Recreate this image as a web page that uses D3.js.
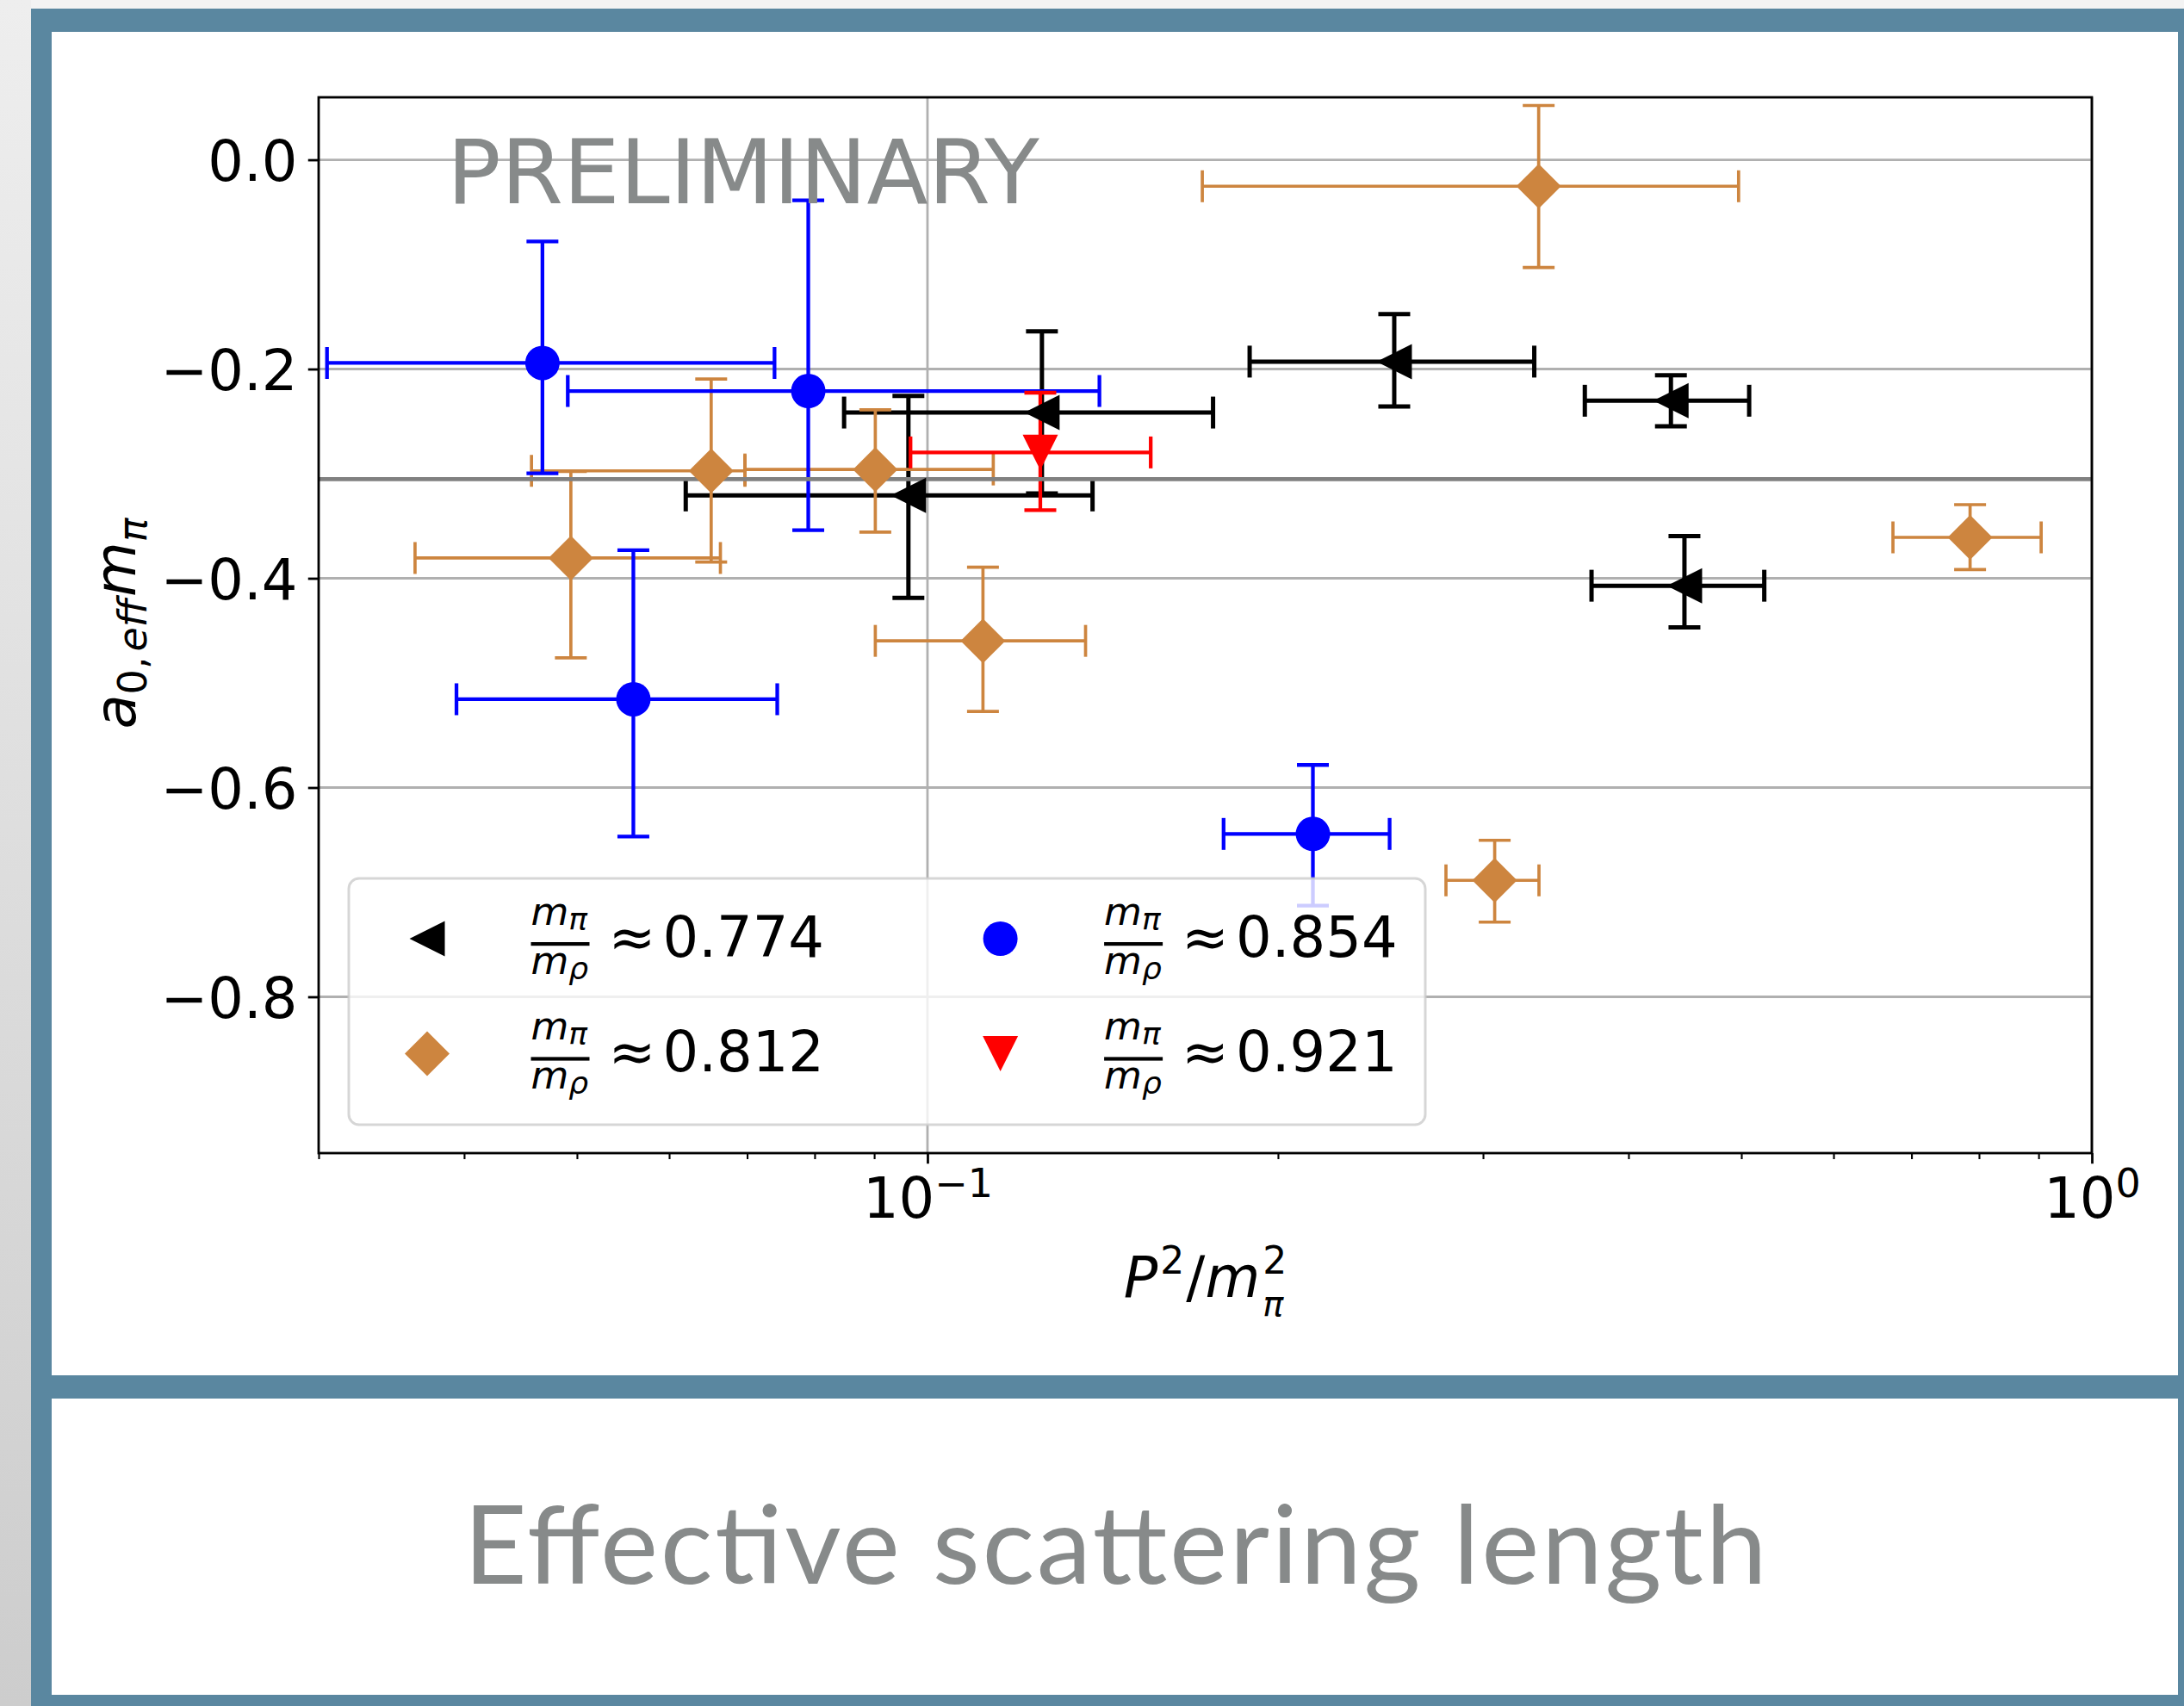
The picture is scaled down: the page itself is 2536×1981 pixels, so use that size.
<!DOCTYPE html>
<html><head><meta charset="utf-8">
<script src="https://cdn.jsdelivr.net/npm/d3@7"></script>
<style>html,body{margin:0;padding:0;background:#f3f3f3;overflow:hidden}</style>
</head><body><svg id="c" width="2536" height="1981"></svg>
<script>
// ---------- data ----------
const ratioLabels = ["0.774", "0.812", "0.854", "0.921"];
// rows: [P^2/m_pi^2, lower, upper, a0eff*m_pi, lower, upper]
const pts0774 = [
  [0.1254, 0.0848, 0.1759, -0.2416, -0.3190, -0.1640],
  [0.0963, 0.0620, 0.1386, -0.3208, -0.4187, -0.2257],
  [0.2517, 0.1891, 0.3320, -0.1929, -0.2357, -0.1476],
  [0.4350, 0.3669, 0.5078, -0.2303, -0.2547, -0.2059],
  [0.4468, 0.3718, 0.5232, -0.4071, -0.4470, -0.3596]
];
const pts0812 = [
  [0.0652, 0.0457, 0.0697, -0.2973, -0.3845, -0.2096],
  [0.0902, 0.0697, 0.1139, -0.2960, -0.3559, -0.2390],
  [0.0494, 0.0363, 0.0664, -0.3806, -0.4760, -0.2979],
  [0.1116, 0.0902, 0.1367, -0.4598, -0.5273, -0.3894],
  [0.3349, 0.1722, 0.4973, -0.0253, -0.1030, 0.0519],
  [0.7860, 0.6748, 0.9046, -0.3609, -0.3916, -0.3296],
  [0.3070, 0.2788, 0.3351, -0.6887, -0.7286, -0.6504]
];
const pts0854 = [
  [0.0467, 0.0305, 0.0739, -0.1942, -0.2997, -0.0781],
  [0.0790, 0.0491, 0.1405, -0.2210, -0.3540, -0.0388],
  [0.0559, 0.0394, 0.0743, -0.5156, -0.6468, -0.3732],
  [0.2143, 0.1796, 0.2494, -0.6443, -0.7129, -0.5784]
];
const pts0921 = [
  [0.1250, 0.0967, 0.1555, -0.2797, -0.3348, -0.2226]
];
const refLineValue = -0.3052;
const yTicks = [0, -0.2, -0.4, -0.6, -0.8];
const yTickLabels = ["0.0", "\u22120.2", "\u22120.4", "\u22120.6", "\u22120.8"];
const xMajor = [0.1, 1];
const xMajorExp = ["\u22121", "0"];
const xMinor = [0.03, 0.04, 0.05, 0.06, 0.07, 0.08, 0.09, 0.2, 0.3, 0.4, 0.5, 0.6, 0.7, 0.8, 0.9];
const watermark = "PRELIMINARY";
const caption = "Effective scattering length";

// ---------- page frame ----------
const W = 2536, H = 1981;
const svg = d3.select("#c");
const defs = svg.append("defs");
const lg = defs.append("linearGradient").attr("id", "side").attr("x1", 0).attr("y1", 0).attr("x2", 0).attr("y2", 1);
lg.append("stop").attr("offset", "0").attr("stop-color", "#eeeeee");
lg.append("stop").attr("offset", "1").attr("stop-color", "#cdcdcd");
svg.append("rect").attr("width", W).attr("height", H).attr("fill", "#f3f3f3");
svg.append("rect").attr("x", 0).attr("y", 0).attr("width", 36).attr("height", H).attr("fill", "url(#side)");
svg.append("rect").attr("x", 36).attr("y", 10).attr("width", W - 36).attr("height", H - 10).attr("fill", "#5a87a0");
svg.append("rect").attr("x", 60).attr("y", 37).attr("width", 2469).attr("height", 1560).attr("fill", "#ffffff");
svg.append("rect").attr("x", 60).attr("y", 1624).attr("width", 2469).attr("height", 344).attr("fill", "#ffffff");

const cap = svg.append("text").attr("x", 1295).attr("y", 1839).attr("text-anchor", "middle")
  .attr("font-family", "Lato, 'Open Sans', sans-serif").attr("font-size", 127).attr("fill", "#878a8a")
  .text(caption);
cap.attr("textLength", 1513).attr("lengthAdjust", "spacing");

// ---------- plot ----------
const X0 = 370, X1 = 2429, Y0 = 113, Y1 = 1339;
const x = d3.scaleLog().domain([0.03, 1]).range([X0, X1]);
const y = d3.scaleLinear().domain([-0.9494, 0.0597]).range([Y1, Y0]);
const FONT = "'DejaVu Sans', sans-serif";
const FS = 65.5, FSS = 46;

defs.append("clipPath").attr("id", "plotclip").append("rect")
  .attr("x", X0).attr("y", Y0).attr("width", X1 - X0).attr("height", Y1 - Y0);

const grid = svg.append("g");
grid.selectAll("line.h").data(yTicks).join("line").attr("class", "h")
  .attr("x1", X0).attr("x2", X1).attr("y1", d => y(d)).attr("y2", d => y(d))
  .attr("stroke", "#b0b0b0").attr("stroke-width", 2.8);
grid.selectAll("line.v").data(xMajor).join("line").attr("class", "v")
  .attr("x1", d => x(d)).attr("x2", d => x(d)).attr("y1", Y0).attr("y2", Y1)
  .attr("stroke", "#b0b0b0").attr("stroke-width", 2.8);

const series = [
  { pts: pts0774, color: "#000000", lw: 5.0, marker: "left" },
  { pts: pts0812, color: "#cd853f", lw: 3.7, marker: "diamond" },
  { pts: pts0854, color: "#0000ff", lw: 4.3, marker: "circle" },
  { pts: pts0921, color: "#ff0000", lw: 4.3, marker: "down" }
];
const CAP = 18.5;
const data = svg.append("g").attr("clip-path", "url(#plotclip)");
series.forEach(s => {
  const g = data.append("g").attr("stroke", s.color).attr("stroke-width", s.lw).attr("fill", "none");
  s.pts.forEach(p => {
    const [xv, xl, xh, yv, yl, yh] = p;
    g.append("line").attr("x1", x(xl)).attr("x2", x(xh)).attr("y1", y(yv)).attr("y2", y(yv));
    g.append("line").attr("x1", x(xv)).attr("x2", x(xv)).attr("y1", y(yl)).attr("y2", y(yh));
    [xl, xh].forEach(v => g.append("line").attr("x1", x(v)).attr("x2", x(v)).attr("y1", y(yv) - CAP).attr("y2", y(yv) + CAP));
    [yl, yh].forEach(v => g.append("line").attr("x1", x(xv) - CAP).attr("x2", x(xv) + CAP).attr("y1", y(v)).attr("y2", y(v)));
  });
});
svg.append("line").attr("x1", X0).attr("x2", X1).attr("y1", y(refLineValue)).attr("y2", y(refLineValue))
  .attr("stroke", "#808080").attr("stroke-width", 4.6);

function markerPath(type, cx, cy) {
  if (type === "left") { const r = 20.5; return `M${cx - r},${cy}L${cx + r},${cy - r}L${cx + r},${cy + r}Z`; }
  if (type === "down") { const r = 20.5; return `M${cx - r},${cy - r}L${cx + r},${cy - r}L${cx},${cy + r}Z`; }
  if (type === "diamond") { const r = 26; return `M${cx},${cy - r}L${cx + r},${cy}L${cx},${cy + r}L${cx - r},${cy}Z`; }
  const r = 20; return `M${cx - r},${cy}A${r},${r} 0 1,0 ${cx + r},${cy}A${r},${r} 0 1,0 ${cx - r},${cy}Z`;
}
svg.append("rect").attr("x", X0).attr("y", Y0).attr("width", X1 - X0).attr("height", Y1 - Y0)
  .attr("fill", "none").attr("stroke", "#000").attr("stroke-width", 2.8);
const mk = svg.append("g").attr("clip-path", "url(#plotclip)");
series.forEach(s => {
  mk.append("g").selectAll("path").data(s.pts).join("path")
    .attr("d", p => markerPath(s.marker, x(p[0]), y(p[3])))
    .attr("fill", s.color);
});

// axes
const gy = svg.append("g").attr("transform", `translate(${X0},0)`)
  .call(d3.axisLeft(y).tickValues(yTicks).tickFormat((d, i) => yTickLabels[i]).tickSize(12.25).tickPadding(12.25));
gy.select(".domain").remove();
gy.attr("font-family", FONT).attr("font-size", FS);
gy.selectAll(".tick line").attr("stroke", "#000").attr("stroke-width", 2.8);
gy.selectAll(".tick text").attr("fill", "#000").attr("dy", "0.37em");

const gxm = svg.append("g").attr("transform", `translate(0,${Y1})`)
  .call(d3.axisBottom(x).tickValues(xMinor).tickFormat(() => "").tickSize(7).tickPadding(0));
gxm.select(".domain").remove();
gxm.selectAll(".tick line").attr("stroke", "#000").attr("stroke-width", 2.1);

const gx = svg.append("g").attr("transform", `translate(0,${Y1})`)
  .call(d3.axisBottom(x).tickValues(xMajor).tickFormat(() => "").tickSize(12.25).tickPadding(12.25));
gx.select(".domain").remove();
gx.attr("font-family", FONT).attr("font-size", FS);
gx.selectAll(".tick line").attr("stroke", "#000").attr("stroke-width", 2.8);
gx.selectAll(".tick text").attr("fill", "#000").attr("dy", "0.77em").each(function (d, i) {
  const t = d3.select(this).text(null);
  t.append("tspan").text("10");
  t.append("tspan").attr("font-size", FSS).attr("dy", -24).text(xMajorExp[i]);
});

// math-like label builder: one <text>, tspans placed absolutely
function mathText(parent, pieces) {
  const t = parent.append("text").attr("font-family", FONT).attr("fill", "#000");
  let cx = 0, prevStart = 0;
  pieces.forEach(p => {
    const start = (p.stack ? prevStart : cx) + (p.kx || 0);
    const ts = t.append("tspan").attr("font-size", p.s)
      .attr("font-style", p.it ? "italic" : "normal")
      .attr("x", start).attr("y", p.dy || 0).text(p.t);
    const w = ts.node().getComputedTextLength();
    if (p.stack) cx = Math.max(cx, start + w);
    else { prevStart = start; cx = start + w; }
  });
  return { t, width: cx };
}
const xl = mathText(svg, [
  { t: "P", it: true, s: FS },
  { t: "2", s: 44, dy: -27, kx: 3 },
  { t: "/", s: FS, kx: 2 },
  { t: "m", it: true, s: FS },
  { t: "2", s: 44, dy: -27, kx: 3 },
  { t: "\u03c0", it: true, s: 40, dy: 22, stack: true }
]);
xl.t.attr("transform", `translate(${1399.5 - xl.width / 2},1506)`);

const yl = mathText(svg, [
  { t: "a", it: true, s: FS },
  { t: "0", s: FSS, dy: 13 },
  { t: ",", s: FSS, dy: 13 },
  { t: "eff", it: true, s: FSS, dy: 13, kx: 6 },
  { t: "m", it: true, s: FS, kx: 2 },
  { t: "\u03c0", it: true, s: FSS, dy: 13 }
]);
yl.t.attr("transform", `translate(157,${724 + yl.width / 2}) rotate(-90)`);

// watermark
svg.append("text").attr("x", 519).attr("y", 236).attr("font-family", FONT).attr("font-size", 104)
  .attr("fill", "#878a8a").text(watermark);

// legend
const leg = svg.append("g");
leg.append("rect").attr("x", 405).attr("y", 1020).attr("width", 1250).attr("height", 286).attr("rx", 12)
  .attr("fill", "#ffffff").attr("fill-opacity", 0.8).attr("stroke", "#cccccc").attr("stroke-opacity", 0.8).attr("stroke-width", 3);
const mAdv = 0.974 * 45;
series.forEach((s, i) => {
  const col = Math.floor(i / 2), row = i % 2;
  const dx = col * 665.6, dy = row * 133.4;
  leg.append("path").attr("d", markerPath(s.marker, 496 + dx, 1090 + dy)).attr("fill", s.color);
  const fx = 616.5 + dx, yb = 1111 + dy;
  leg.append("rect").attr("x", fx).attr("y", yb - 17).attr("width", 68).attr("height", 4.2).attr("fill", "#000");
  const t = leg.append("text").attr("font-family", FONT).attr("fill", "#000");
  t.append("tspan").attr("x", fx).attr("y", yb - 37).attr("font-size", 45).attr("font-style", "italic").text("m");
  t.append("tspan").attr("x", fx + mAdv).attr("y", yb - 31.5).attr("font-size", 36).attr("font-style", "italic").text("\u03c0");
  t.append("tspan").attr("x", fx).attr("y", yb + 20).attr("font-size", 45).attr("font-style", "italic").text("m");
  t.append("tspan").attr("x", fx + mAdv).attr("y", yb + 26).attr("font-size", 36).attr("font-style", "italic").text("\u03c1");
  t.append("tspan").attr("x", fx + 90).attr("y", yb).attr("font-size", FS).text("\u2248");
  t.append("tspan").attr("x", fx + 153).attr("y", yb).attr("font-size", FS).text(ratioLabels[i]);
});
</script></body></html>
